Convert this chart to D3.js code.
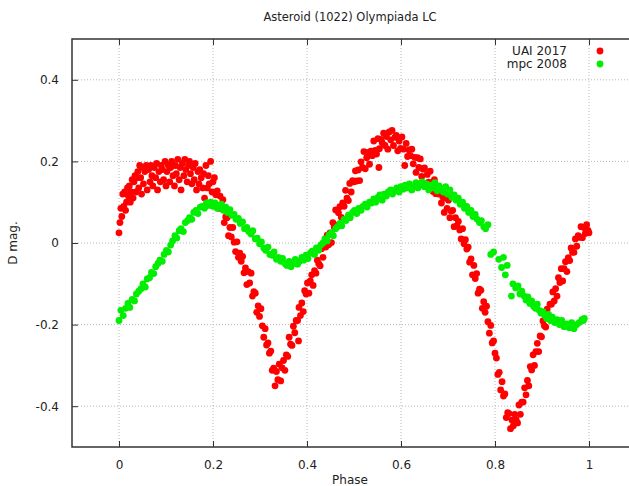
<!DOCTYPE html>
<html>
<head>
<meta charset="utf-8">
<script src="https://cdn.jsdelivr.net/npm/d3@7"></script>
<style>
  body { margin: 0; background: #fff; }
  svg { font-family: "DejaVu Sans", sans-serif; }
</style>
</head>
<body>
<div id="chart"></div>
<script>
// data: [phase, D mag]
const uai2017 = [
  [0.000,0.025],[0.002,0.05],[0.004,0.085],[0.006,0.065],[0.008,0.12],[0.010,0.09],[0.012,0.125],[0.014,0.08],[0.016,0.10],[0.018,0.135],
  [0.020,0.115],[0.022,0.14],[0.024,0.10],[0.026,0.125],[0.028,0.155],[0.030,0.11],[0.032,0.15],[0.034,0.165],[0.036,0.125],[0.038,0.16],
  [0.040,0.175],[0.042,0.135],[0.044,0.19],[0.046,0.16],[0.048,0.12],[0.050,0.185],[0.052,0.145],[0.055,0.175],[0.058,0.19],[0.060,0.13],
  [0.063,0.18],[0.066,0.15],[0.068,0.19],[0.070,0.165],[0.072,0.14],[0.075,0.185],[0.078,0.16],[0.080,0.195],[0.082,0.13],[0.085,0.175],
  [0.088,0.15],[0.090,0.19],[0.092,0.18],[0.095,0.155],[0.098,0.2],[0.100,0.14],[0.102,0.175],[0.105,0.19],[0.108,0.15],[0.110,0.185],
  [0.112,0.2],[0.115,0.165],[0.118,0.14],[0.120,0.19],[0.122,0.17],[0.125,0.205],[0.128,0.155],[0.130,0.185],[0.132,0.13],[0.135,0.195],
  [0.138,0.165],[0.140,0.205],[0.142,0.18],[0.145,0.15],[0.148,0.19],[0.150,0.2],[0.152,0.17],[0.155,0.145],[0.158,0.185],[0.160,0.155],
  [0.162,0.195],[0.165,0.13],[0.168,0.175],[0.170,0.145],[0.172,0.18],[0.175,0.16],[0.178,0.135],[0.180,0.17],[0.182,0.11],[0.185,0.19],
  [0.188,0.135],[0.190,0.165],[0.192,0.145],[0.195,0.2],[0.198,0.125],[0.200,0.15],[0.203,0.16],[0.206,0.118],[0.209,0.128],[0.212,0.085],
  [0.215,0.115],[0.218,0.085],[0.221,0.106],[0.224,0.05],[0.227,0.064],[0.230,0.062],[0.233,0.018],[0.236,0.038],[0.239,0.015],[0.242,0.038],
  [0.245,0.002],[0.248,-0.021],[0.251,0.003],[0.254,-0.035],[0.257,-0.025],[0.260,-0.045],[0.263,-0.033],[0.266,-0.073],[0.269,-0.061],[0.272,-0.102],
  [0.275,-0.07],[0.278,-0.098],[0.281,-0.074],[0.284,-0.13],[0.287,-0.119],[0.290,-0.123],[0.293,-0.17],[0.296,-0.154],[0.299,-0.18],[0.302,-0.161],
  [0.305,-0.203],[0.308,-0.231],[0.311,-0.21],[0.314,-0.25],[0.317,-0.245],[0.320,-0.27],[0.323,-0.265],[0.326,-0.312],[0.329,-0.307],[0.332,-0.35],
  [0.335,-0.315],[0.338,-0.335],[0.341,-0.297],[0.344,-0.338],[0.347,-0.306],[0.350,-0.288],[0.353,-0.312],[0.356,-0.274],[0.359,-0.278],[0.362,-0.231],
  [0.365,-0.248],[0.368,-0.251],[0.371,-0.204],[0.374,-0.22],[0.377,-0.19],[0.380,-0.19],[0.382,-0.24],[0.383,-0.158],[0.386,-0.178],[0.389,-0.147],
  [0.392,-0.168],[0.395,-0.117],[0.398,-0.125],[0.401,-0.098],[0.404,-0.123],[0.407,-0.093],[0.410,-0.078],[0.413,-0.104],[0.416,-0.068],[0.419,-0.074],
  [0.422,-0.042],[0.425,-0.051],[0.428,-0.056],[0.431,-0.014],[0.434,-0.035],[0.437,-0.008],[0.440,-0.01],[0.443,0.019],[0.446,-0.004],[0.449,0.025],
  [0.452,0.001],[0.455,0.05],[0.458,0.039],[0.461,0.081],[0.464,0.044],[0.467,0.074],[0.470,0.089],[0.473,0.063],[0.476,0.098],[0.479,0.09],
  [0.482,0.129],[0.485,0.11],[0.488,0.104],[0.491,0.146],[0.494,0.125],[0.497,0.153],[0.500,0.15],[0.503,0.177],[0.506,0.152],[0.509,0.179],
  [0.512,0.153],[0.515,0.199],[0.518,0.185],[0.521,0.224],[0.524,0.182],[0.527,0.209],[0.530,0.222],[0.533,0.193],[0.536,0.225],[0.539,0.214],
  [0.542,0.25],[0.545,0.227],[0.548,0.218],[0.551,0.256],[0.553,0.185],[0.554,0.231],[0.557,0.254],[0.560,0.246],[0.563,0.269],[0.566,0.239],
  [0.569,0.261],[0.572,0.23],[0.575,0.272],[0.578,0.253],[0.581,0.276],[0.584,0.239],[0.587,0.259],[0.590,0.264],[0.593,0.226],[0.596,0.25],
  [0.599,0.232],[0.602,0.26],[0.605,0.23],[0.608,0.19],[0.611,0.244],[0.614,0.212],[0.617,0.228],[0.620,0.214],[0.623,0.23],[0.626,0.194],
  [0.629,0.21],[0.632,0.173],[0.635,0.209],[0.638,0.185],[0.641,0.206],[0.644,0.163],[0.647,0.181],[0.650,0.184],[0.653,0.145],[0.656,0.168],
  [0.659,0.149],[0.662,0.176],[0.665,0.144],[0.668,0.126],[0.671,0.155],[0.674,0.121],[0.677,0.136],[0.680,0.12],[0.683,0.135],[0.686,0.098],
  [0.689,0.113],[0.692,0.075],[0.695,0.11],[0.698,0.085],[0.701,0.105],[0.704,0.062],[0.707,0.078],[0.710,0.08],[0.713,0.04],[0.716,0.062],
  [0.719,0.042],[0.722,0.053],[0.725,0.032],[0.728,0.01],[0.731,0.035],[0.734,-0.002],[0.737,0.008],[0.740,-0.015],[0.743,-0.01],[0.746,-0.047],
  [0.749,-0.039],[0.752,-0.078],[0.755,-0.055],[0.758,-0.087],[0.761,-0.075],[0.764,-0.123],[0.767,-0.113],[0.770,-0.116],[0.773,-0.16],[0.776,-0.144],
  [0.779,-0.17],[0.782,-0.155],[0.785,-0.193],[0.788,-0.221],[0.791,-0.202],[0.794,-0.245],[0.797,-0.24],[0.800,-0.27],[0.803,-0.282],[0.806,-0.322],
  [0.809,-0.317],[0.812,-0.36],[0.815,-0.34],[0.818,-0.375],[0.821,-0.37],[0.824,-0.428],[0.827,-0.416],[0.830,-0.418],[0.833,-0.455],[0.836,-0.434],
  [0.839,-0.448],[0.842,-0.42],[0.845,-0.433],[0.848,-0.441],[0.851,-0.397],[0.854,-0.42],[0.857,-0.39],[0.860,-0.39],[0.863,-0.355],[0.866,-0.372],
  [0.869,-0.337],[0.872,-0.35],[0.875,-0.303],[0.878,-0.311],[0.881,-0.274],[0.884,-0.3],[0.887,-0.266],[0.890,-0.246],[0.893,-0.266],[0.896,-0.228],
  [0.899,-0.23],[0.902,-0.191],[0.905,-0.203],[0.908,-0.206],[0.911,-0.162],[0.914,-0.18],[0.917,-0.15],[0.920,-0.15],[0.923,-0.12],[0.926,-0.142],
  [0.929,-0.112],[0.932,-0.13],[0.935,-0.085],[0.938,-0.097],[0.941,-0.063],[0.944,-0.093],[0.947,-0.063],[0.950,-0.046],[0.953,-0.07],[0.956,-0.036],
  [0.959,-0.043],[0.962,-0.012],[0.965,-0.023],[0.968,-0.023],[0.971,0.01],[0.974,-0.008],[0.977,0.018],[0.980,0.014],[0.983,0.04],[0.986,0.013],
  [0.989,0.038],[0.992,0.023],[0.995,0.045],[0.998,0.031],[1.000,0.025]
];

const mpc2008 = [
  [0.000,-0.19],[0.004,-0.165],[0.009,-0.178],[0.014,-0.16],[0.019,-0.148],[0.023,-0.158],[0.028,-0.138],[0.033,-0.142],[0.037,-0.125],[0.042,-0.118],
  [0.047,-0.112],[0.051,-0.1],[0.056,-0.108],[0.060,-0.088],[0.065,-0.085],[0.069,-0.072],[0.074,-0.075],[0.078,-0.058],[0.083,-0.05],[0.087,-0.042],
  [0.092,-0.045],[0.096,-0.028],[0.101,-0.018],[0.105,-0.022],[0.110,-0.005],[0.114,0.005],[0.119,0.018],[0.123,0.012],[0.128,0.03],[0.132,0.035],
  [0.137,0.028],[0.141,0.05],[0.146,0.055],[0.150,0.062],[0.155,0.058],[0.159,0.075],[0.164,0.08],[0.168,0.072],[0.173,0.088],[0.177,0.09],
  [0.182,0.085],[0.186,0.098],[0.191,0.092],[0.195,0.1],[0.200,0.09],[0.204,0.098],[0.209,0.085],[0.213,0.092],[0.218,0.095],[0.222,0.08],
  [0.227,0.088],[0.231,0.075],[0.236,0.082],[0.240,0.068],[0.245,0.07],[0.249,0.058],[0.254,0.06],[0.258,0.048],[0.263,0.052],[0.267,0.035],
  [0.272,0.038],[0.276,0.028],[0.281,0.022],[0.285,0.03],[0.290,0.01],[0.294,0.012],[0.299,-0.002],[0.303,0.003],[0.308,-0.012],[0.312,-0.018],
  [0.317,-0.01],[0.321,-0.028],[0.326,-0.03],[0.330,-0.022],[0.335,-0.04],[0.339,-0.035],[0.344,-0.045],[0.348,-0.038],[0.353,-0.05],[0.357,-0.055],
  [0.362,-0.045],[0.366,-0.058],[0.371,-0.05],[0.375,-0.04],[0.380,-0.052],[0.384,-0.045],[0.389,-0.035],[0.393,-0.042],[0.398,-0.03],[0.402,-0.038],
  [0.407,-0.025],[0.411,-0.02],[0.416,-0.028],[0.420,-0.012],[0.425,-0.018],[0.429,-0.005],[0.434,0.0],[0.438,0.01],[0.443,0.005],[0.447,0.02],
  [0.452,0.025],[0.456,0.018],[0.461,0.035],[0.465,0.04],[0.470,0.048],[0.474,0.042],[0.479,0.058],[0.483,0.055],[0.488,0.068],[0.492,0.062],
  [0.497,0.075],[0.501,0.08],[0.506,0.072],[0.510,0.085],[0.515,0.08],[0.519,0.09],[0.524,0.095],[0.528,0.088],[0.533,0.1],[0.537,0.098],
  [0.542,0.108],[0.546,0.1],[0.551,0.112],[0.555,0.118],[0.560,0.105],[0.564,0.12],[0.569,0.115],[0.573,0.125],[0.578,0.13],[0.582,0.12],
  [0.587,0.128],[0.591,0.135],[0.596,0.125],[0.600,0.138],[0.605,0.132],[0.609,0.142],[0.614,0.135],[0.618,0.145],[0.623,0.13],[0.627,0.14],
  [0.632,0.148],[0.636,0.135],[0.641,0.142],[0.645,0.15],[0.650,0.138],[0.654,0.145],[0.659,0.13],[0.663,0.142],[0.668,0.135],[0.672,0.148],
  [0.677,0.128],[0.681,0.14],[0.686,0.132],[0.690,0.125],[0.695,0.138],[0.699,0.12],[0.704,0.13],[0.708,0.112],[0.713,0.118],[0.717,0.105],
  [0.722,0.11],[0.726,0.095],[0.731,0.1],[0.735,0.085],[0.740,0.09],[0.744,0.075],[0.749,0.08],[0.753,0.065],[0.758,0.07],[0.762,0.058],
  [0.767,0.05],[0.771,0.055],[0.776,0.04],[0.780,0.035],[0.785,0.045],[0.791,-0.028],[0.797,-0.022],[0.808,-0.04],[0.814,-0.06],[0.818,-0.035],
  [0.822,-0.078],[0.826,-0.055],[0.835,-0.13],[0.838,-0.1],[0.844,-0.11],[0.849,-0.105],[0.853,-0.125],[0.857,-0.118],[0.862,-0.13],[0.866,-0.14],
  [0.870,-0.132],[0.874,-0.148],[0.878,-0.142],[0.882,-0.155],[0.886,-0.16],[0.890,-0.15],[0.894,-0.165],[0.898,-0.172],[0.902,-0.168],[0.906,-0.178],
  [0.910,-0.185],[0.914,-0.175],[0.918,-0.19],[0.922,-0.182],[0.927,-0.195],[0.932,-0.188],[0.937,-0.2],[0.942,-0.19],[0.947,-0.205],[0.952,-0.198],
  [0.958,-0.208],[0.963,-0.195],[0.968,-0.21],[0.974,-0.2],[0.979,-0.195],[0.985,-0.188],[0.990,-0.185],[0.988,-0.19]
];

const xTicks = [0, 0.2, 0.4, 0.6, 0.8, 1];
const yTicks = [-0.4, -0.2, 0, 0.2, 0.4];
const seriesNames = ['UAI 2017', 'mpc 2008'];
const seriesColors = ['#ff0000', '#00ee00'];

// CHART SETUP ------------------------------
const W = 629, H = 486;
const margin = { top: 39, left: 72 };
const plotW = 564, plotH = 408; // right edge runs past the window, like the original

const svg = d3.select('#chart').append('svg')
  .attr('width', W).attr('height', H);

const x = d3.scaleLinear().domain([-0.1, 1.1]).range([margin.left, margin.left + plotW]);
const y = d3.scaleLinear().domain([-0.5, 0.5]).range([margin.top + plotH, margin.top]);

// grid (dotted)
const grid = svg.append('g').attr('class', 'grid');
grid.selectAll('.gx').data(xTicks).enter().append('line')
  .attr('x1', d => x(d)).attr('x2', d => x(d))
  .attr('y1', margin.top).attr('y2', margin.top + plotH);
grid.selectAll('.gy').data(yTicks).enter().append('line')
  .attr('x1', margin.left).attr('x2', margin.left + plotW)
  .attr('y1', d => y(d)).attr('y2', d => y(d));
grid.selectAll('line')
  .attr('stroke', '#b8b8b8').attr('stroke-width', 1).attr('stroke-dasharray', '1,2');

// axes, ticks pointing in; plain hyphen for negatives like gnuplot
const fmt = d => d === 0 ? '0' : (d === 1 ? '1' : d.toFixed(1));
svg.append('g').attr('class', 'x-axis')
  .attr('transform', `translate(0,${margin.top + plotH})`)
  .call(d3.axisBottom(x).tickValues(xTicks).tickSize(-6).tickPadding(13).tickFormat(fmt));
svg.append('g').attr('class', 'x-axis-top')
  .attr('transform', `translate(0,${margin.top})`)
  .call(d3.axisTop(x).tickValues(xTicks).tickSize(-6).tickFormat(''));
svg.append('g').attr('class', 'y-axis')
  .attr('transform', `translate(${margin.left},0)`)
  .call(d3.axisLeft(y).tickValues(yTicks).tickSize(-6).tickPadding(13).tickFormat(fmt));

svg.selectAll('.x-axis .domain, .x-axis-top .domain, .y-axis .domain').remove();
svg.selectAll('.tick line').attr('stroke', '#333').attr('stroke-width', 1);
svg.selectAll('.tick text')
  .attr('font-family', '"DejaVu Sans", sans-serif').attr('font-size', 12).attr('fill', '#222');

// border
svg.append('rect')
  .attr('x', margin.left).attr('y', margin.top)
  .attr('width', plotW).attr('height', plotH)
  .attr('fill', 'none').attr('stroke', '#333').attr('stroke-width', 1.5);

// points: UAI first, mpc drawn on top
const dots = svg.append('g').attr('class', 'dots');
[uai2017, mpc2008].forEach((series, i) => {
  dots.append('g').selectAll('circle').data(series).enter().append('circle')
    .attr('cx', d => x(d[0]))
    .attr('cy', d => y(d[1]))
    .attr('r', 3.4)
    .attr('fill', seriesColors[i]);
});

// title & labels
svg.append('text')
  .attr('x', 350).attr('y', 21)
  .attr('text-anchor', 'middle').attr('font-size', 11.5).attr('fill', '#222')
  .text('Asteroid (1022) Olympiada LC');
svg.append('text')
  .attr('x', 350).attr('y', 484)
  .attr('text-anchor', 'middle').attr('font-size', 12).attr('fill', '#222')
  .text('Phase');
svg.append('text')
  .attr('transform', `translate(17,${y(0)}) rotate(-90)`)
  .attr('text-anchor', 'middle').attr('font-size', 12).attr('fill', '#222')
  .text('D mag.');

// legend
const legend = svg.append('g').attr('class', 'legend');
seriesNames.forEach((name, i) => {
  legend.append('text')
    .attr('x', 567).attr('y', 55 + i * 13)
    .attr('text-anchor', 'end').attr('font-size', 12).attr('fill', '#222')
    .text(name);
  legend.append('circle')
    .attr('cx', 600).attr('cy', 51 + i * 13)
    .attr('r', 3.4).attr('fill', seriesColors[i]);
});
</script>
</body>
</html>
